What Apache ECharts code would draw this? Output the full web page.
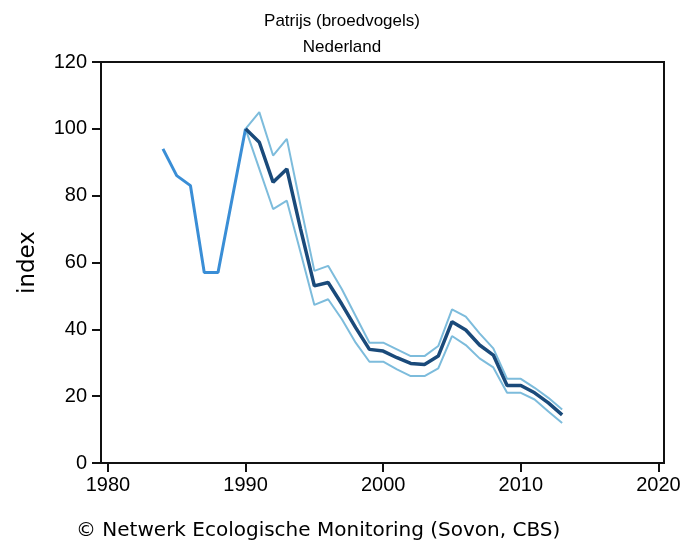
<!DOCTYPE html>
<html>
<head>
<meta charset="utf-8">
<script src="https://cdn.jsdelivr.net/npm/echarts@6/dist/echarts.min.js"></script>
<style>html,body{margin:0;padding:0;background:#fff}#c{width:684px;height:544px}</style>
</head>
<body>
<div id="c"></div>
<script>
var earlyYears = [1984, 1985, 1986, 1987, 1988, 1990];
var earlyIndex = [94, 86, 83, 57, 57, 100];
var years = [1990,1991,1992,1993,1994,1995,1996,1997,1998,1999,2000,2001,2002,2003,2004,2005,2006,2007,2008,2009,2010,2011,2012,2013];
var indexVals = [100,96,84,88,70,53,54,47.5,40.5,34,33.5,31.5,29.8,29.5,32,42.3,39.8,35.3,32.3,23.2,23.2,21,18,14.4];
var upperVals = [100,105,92,97,77,57.5,59,52,44,36,36,34,32,32,35,46,43.8,38.8,34.3,25.2,25.2,22.5,19.5,16];
var lowerVals = [100,88,76,78.5,63,47.3,49,43,36,30.3,30.3,28,26,26,28.3,38,35.3,31.3,28.6,21,21,19,15.4,12];
var xTicks = [1980, 1990, 2000, 2010, 2020];

function pairs(xs, ys){ return xs.map(function(x,i){ return [x, ys[i]]; }); }

var chart = echarts.init(document.getElementById('c'), null, {renderer:'canvas'});
chart.setOption({
  animation:false,
  backgroundColor:'#ffffff',
  title:{
    text:'Patrijs (broedvogels)\nNederland',
    left:'center', top:3,
    textStyle:{fontFamily:'Liberation Sans', fontSize:17, fontWeight:'normal', color:'#000', lineHeight:26}
  },
  graphic:[{
    type:'text', left:76, top:521,
    style:{text:'© Netwerk Ecologische Monitoring (Sovon, CBS)', font:'20px "DejaVu Sans"', fill:'#000'}
  }],
  grid:{left:101, right:20, top:62, bottom:81, show:true, borderColor:'#111', borderWidth:2, backgroundColor:'transparent'},
  xAxis:{
    type:'value', min:1979.5, max:2020.4,
    splitLine:{show:false},
    axisLine:{show:true, onZero:false, lineStyle:{color:'#111', width:2}},
    axisTick:{show:true, length:9, customValues:xTicks, lineStyle:{color:'#111', width:2}},
    axisLabel:{customValues:xTicks, formatter:function(v){return String(v);}, fontFamily:'Liberation Sans', fontSize:20, color:'#000', margin:12}
  },
  yAxis:{
    type:'value', min:0, max:120, interval:20,
    name:'index', nameLocation:'middle', nameGap:61,
    nameTextStyle:{fontFamily:'DejaVu Sans', fontSize:23, color:'#000'},
    splitLine:{show:false},
    axisLine:{show:true, lineStyle:{color:'#111', width:2}},
    axisTick:{show:true, length:9, lineStyle:{color:'#111', width:2}},
    axisLabel:{fontFamily:'Liberation Sans', fontSize:20, color:'#000', margin:14}
  },
  series:[
    {type:'line', data:pairs(years, upperVals), showSymbol:false, lineStyle:{color:'#7dbcdc', width:2}, z:2},
    {type:'line', data:pairs(years, lowerVals), showSymbol:false, lineStyle:{color:'#7dbcdc', width:2}, z:2},
    {type:'line', data:pairs(earlyYears, earlyIndex), showSymbol:false, lineStyle:{color:'#3a8ed6', width:3}, z:3},
    {type:'line', data:pairs(years, indexVals), showSymbol:false, lineStyle:{color:'#1a4a7a', width:3.5}, z:4}
  ]
});
</script>
</body>
</html>
